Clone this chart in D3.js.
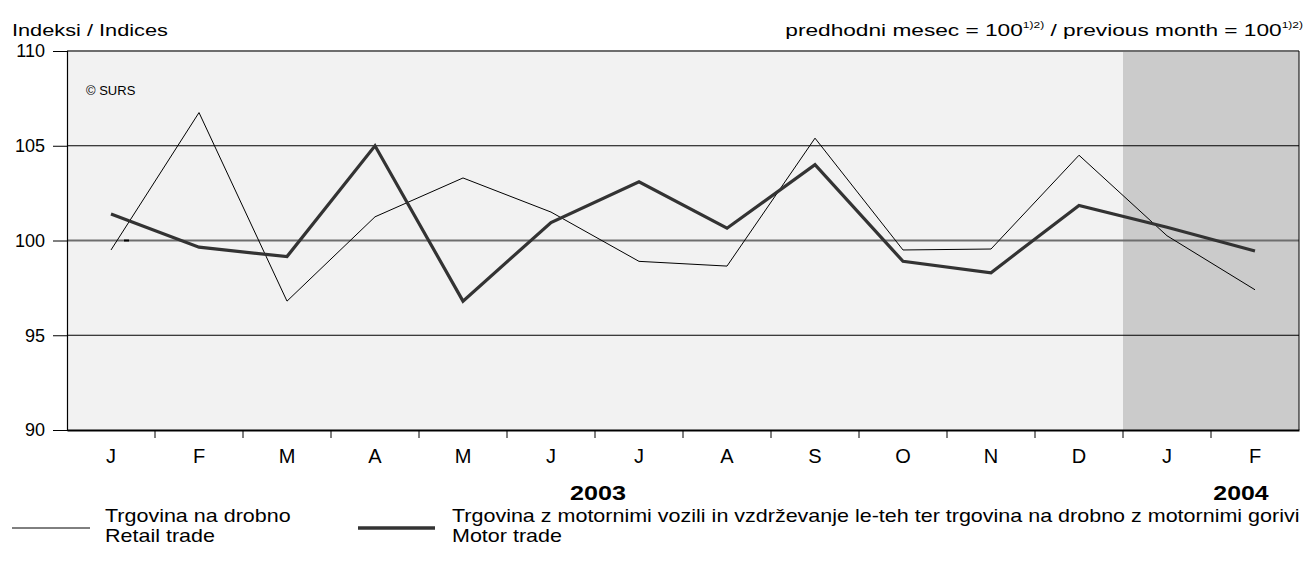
<!DOCTYPE html>
<html><head><meta charset="utf-8">
<script src="https://cdn.jsdelivr.net/npm/d3@7"></script>
<style>body{margin:0;background:#fff;} svg{display:block;font-family:"Liberation Sans",Arial,sans-serif;}</style>
</head><body>
<svg id="c" width="1305" height="561"></svg>
<script>
const months = ["J","F","M","A","M","J","J","A","S","O","N","D","J","F"];
const retail = [99.5,106.75,96.8,101.25,103.3,101.5,98.9,98.65,105.4,99.5,99.55,104.5,100.25,97.4];
const motor  = [101.4,99.65,99.15,105.0,96.8,100.95,103.1,100.65,104.0,98.9,98.3,101.85,100.7,99.45];
const yTicks = [90,95,100,105,110];
const years = [{label:"2003", from:0, to:11},{label:"2004", from:12, to:13}];

const svg = d3.select("#c");
const L=67, R=1299, T=51, B=430;
const idx = months.map((d,i)=>i);
const x = d3.scaleBand().domain(idx).range([L,R]);
const y = d3.scaleLinear().domain([90,110]).range([B,T]);
const cx = i => x(i)+x.bandwidth()/2;

function fit(sel, target, ax){
  const w = sel.node().getBBox().width;
  const s = target / w;
  sel.attr("transform", `translate(${ax},0) scale(${s},1) translate(${-ax},0)`);
}

svg.append("rect").attr("x",L).attr("y",T).attr("width",R-L).attr("height",B-T).attr("fill","#f2f2f2");
svg.append("rect").attr("x",x(12)).attr("y",T).attr("width",R-x(12)).attr("height",B-T).attr("fill","#cbcbcb");

svg.append("g").selectAll("line").data([95,105]).join("line")
  .attr("x1",L).attr("x2",R).attr("y1",d=>y(d)).attr("y2",d=>y(d))
  .attr("stroke","#000").attr("stroke-width",1);
svg.append("line").attr("x1",L).attr("x2",R).attr("y1",y(100)).attr("y2",y(100))
  .attr("stroke","#6e6e6e").attr("stroke-width",2);
svg.append("line").attr("x1",L).attr("x2",R).attr("y1",y(110)).attr("y2",y(110))
  .attr("stroke","#6e6e6e").attr("stroke-width",2);
svg.append("line").attr("x1",R).attr("x2",R).attr("y1",T).attr("y2",B)
  .attr("stroke","#000").attr("stroke-width",1);

const ya = svg.append("g").attr("transform",`translate(${L},0)`)
  .call(d3.axisLeft(y).tickValues(yTicks).tickSize(14).tickPadding(8).tickFormat(d3.format("d")));
ya.select(".domain").attr("stroke","#000").attr("stroke-width",1.2);
ya.selectAll(".tick line").attr("stroke","#000");
ya.selectAll("text").attr("font-size",18).attr("fill","#000").attr("font-family","Liberation Sans, Arial, sans-serif");

const xa = svg.append("g").attr("transform",`translate(0,${B})`)
  .call(d3.axisBottom(x).tickSize(0).tickPadding(0).tickFormat(i=>months[i]));
xa.select(".domain").attr("stroke","#000").attr("stroke-width",2);
xa.selectAll("text").attr("dy",null).attr("y",33).attr("font-size",20).attr("fill","#000").attr("font-family","Liberation Sans, Arial, sans-serif");
svg.append("g").selectAll("line").data(idx.slice(1)).join("line")
  .attr("x1",i=>x(i)).attr("x2",i=>x(i)).attr("y1",B).attr("y2",B+8)
  .attr("stroke","#000").attr("stroke-width",1);

const yearX = d => d.to - d.from > 2 ? (cx(d.from)+cx(d.to))/2 + 3 : cx(d.to) - 14;
svg.append("g").selectAll("text").data(years).join("text")
  .attr("x",yearX)
  .attr("y",500).attr("text-anchor","middle").attr("font-size",20.5).attr("font-weight","bold").text(d=>d.label)
  .each(function(d){ fit(d3.select(this), 56, yearX(d)); });

const line = d3.line().x((d,i)=>cx(i)).y(d=>y(d));
svg.append("path").datum(retail).attr("d",line).attr("fill","none").attr("stroke","#000").attr("stroke-width",1);
svg.append("path").datum(motor).attr("d",line).attr("fill","none").attr("stroke","#333").attr("stroke-width",3.2).attr("stroke-linejoin","miter");

svg.append("line").attr("x1",cx(0)+13).attr("x2",cx(0)+18).attr("y1",y(100)).attr("y2",y(100)).attr("stroke","#000").attr("stroke-width",2);

svg.append("text").attr("x",86).attr("y",95).attr("font-size",13).text("© SURS");
const it = svg.append("text").attr("x",12).attr("y",36).attr("font-size",17).text("Indeksi / Indices");
fit(it, 156, 12);
const h = svg.append("text").attr("x",1303).attr("y",36).attr("font-size",17).attr("text-anchor","end");
h.append("tspan").text("predhodni mesec = 100");
h.append("tspan").attr("font-size",9).attr("dy",-8).text("1)2)");
h.append("tspan").attr("dy",8).text(" / previous month = 100");
h.append("tspan").attr("font-size",9).attr("dy",-8).text("1)2)");
fit(h, 518, 1303);

svg.append("line").attr("x1",12).attr("x2",90).attr("y1",528).attr("y2",528).attr("stroke","#000").attr("stroke-width",1);
svg.append("line").attr("x1",358).attr("x2",435).attr("y1",528).attr("y2",528).attr("stroke","#333").attr("stroke-width",3.5);
const lg1 = svg.append("text").attr("font-size",19);
lg1.append("tspan").attr("x",105).attr("y",522).text("Trgovina na drobno");
lg1.append("tspan").attr("x",105).attr("y",542).text("Retail trade");
const lg2 = svg.append("text").attr("font-size",19);
const l2a = lg2.append("tspan").attr("x",452).attr("y",522).text("Trgovina z motornimi vozili in vzdrževanje le-teh ter trgovina na drobno z motornimi gorivi");
lg2.append("tspan").attr("x",452).attr("y",542).text("Motor trade");
const wLong = l2a.node().getComputedTextLength();
const sLeg = 848 / wLong;
lg1.attr("transform",`translate(105,0) scale(${sLeg},1) translate(-105,0)`);
lg2.attr("transform",`translate(452,0) scale(${sLeg},1) translate(-452,0)`);
</script>
</body></html>
